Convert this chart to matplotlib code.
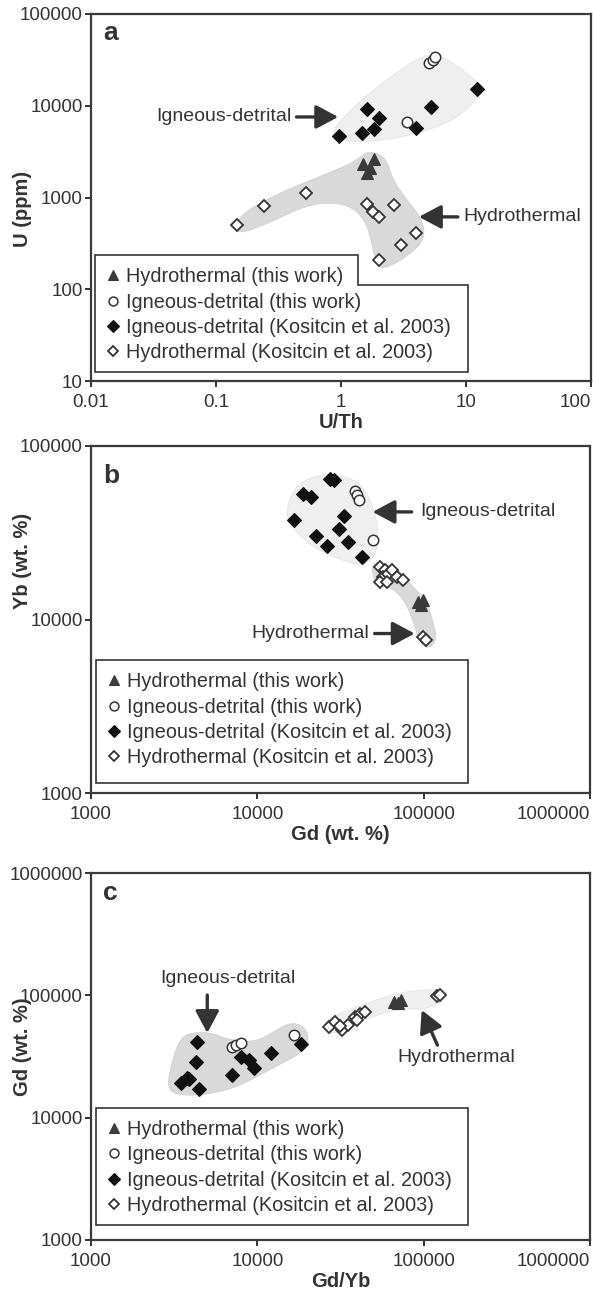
import numpy as np
import matplotlib.pyplot as plt
from matplotlib.lines import Line2D
from matplotlib.patches import Polygon
from matplotlib.ticker import FixedLocator, FuncFormatter, NullLocator

plt.rcParams['font.family'] = ['Liberation Sans', 'DejaVu Sans']

DARK = '#333333'
LIGHT_FILL = '#efefef'
GREY_FILL = '#d9d9d9'

# ---- panel a: U/Th vs U (ppm)
a_hyd_tw_x = [1.5, 1.85, 1.6, 1.7]
a_hyd_tw_y = [2300, 2600, 1850, 2100]
a_ign_tw_x = [5.1, 5.4, 5.7, 3.4]
a_ign_tw_y = [29000, 31500, 34000, 6700]
a_ign_k_x = [12.2, 5.2, 1.6, 2.0, 1.82, 1.46, 0.97, 4.0]
a_ign_k_y = [15200, 9700, 9200, 7400, 5600, 5050, 4700, 5700]
a_hyd_k_x = [0.148, 0.24, 0.52, 1.6, 1.8, 2.0, 2.65, 4.0, 3.0, 2.0]
a_hyd_k_y = [500, 810, 1120, 850, 700, 615, 830, 410, 305, 210]

# field outlines (a)
a_ign_field_x = [0.78, 1.33, 3.36, 8.45, 14.2, 12.5, 6.5, 4.5, 2.45, 1.17]
a_ign_field_y = [4570, 3930, 4570, 7000, 14900, 18200, 35700, 35700, 20600, 9000]
a_hyd_field_x = [0.14, 0.163, 0.267, 0.49, 0.81, 1.24, 1.6, 1.79, 1.93, 2.32, 3.36, 4.68,
                 4.51, 3.36, 2.59, 2.32, 1.93, 1.6, 1.24, 0.67, 0.366, 0.195, 0.148]
a_hyd_field_y = [444, 411, 529, 790, 895, 790, 529, 290, 175, 171, 225, 345,
                 570, 942, 1556, 2570, 3060, 3140, 2380, 1680, 1210, 790, 570]

# ---- panel b: Gd vs Yb
b_hyd_tw_x = [92000, 98600, 97000]
b_hyd_tw_y = [12600, 12900, 12100]
b_ign_tw_x = [38900, 40000, 41100, 49300]
b_ign_tw_y = [55000, 52200, 48900, 28700]
b_ign_k_x = [27500, 29100, 18700, 20900, 16700, 33000, 30800, 22400, 34900, 26400, 42300]
b_ign_k_y = [64500, 63700, 52900, 50800, 37500, 39500, 33200, 30300, 28000, 26500, 22900]
b_hyd_k_x = [54300, 58200, 56600, 60700, 64200, 68800, 74700, 54300, 59800, 98600, 104000]
b_hyd_k_y = [20100, 19300, 17600, 18300, 19300, 17600, 16900, 16400, 16400, 7930, 7620]

b_ign_field_x = [27100, 39500, 47300, 52800, 52800, 50700, 42900, 35800, 22700, 17200, 14900, 15600, 18700]
b_ign_field_y = [69900, 63700, 50800, 36000, 27600, 22900, 20600, 21200, 25200, 31500, 39000, 50800, 63700]
b_hyd_field_x = [49300, 56600, 71700, 85900, 104000, 113000, 120000, 112000, 98600, 90700, 82400, 68800, 54300, 49300]
b_hyd_field_y = [21200, 21400, 19300, 15400, 12900, 9930, 7930, 6940, 6940, 8360, 11300, 14800, 15800, 17600]

# ---- panel c: Gd/Yb vs Gd
c_hyd_tw_x = [66000, 73000, 70000]
c_hyd_tw_y = [88000, 91000, 86000]
c_ign_tw_x = [7070, 7470, 8010, 16500]
c_ign_tw_y = [37800, 39200, 40700, 47300]
c_ign_k_x = [4350, 4290, 12100, 18400, 8010, 8950, 9590, 7070, 3790, 3480, 3890, 4470]
c_ign_k_y = [41500, 28500, 33700, 40000, 31300, 29600, 25500, 22300, 21100, 19200, 20700, 17100]
c_hyd_k_x = [27100, 29500, 32500, 35300, 38400, 41700, 44100, 40000, 31200, 121000, 125000]
c_hyd_k_y = [55100, 60500, 52000, 57200, 66500, 70300, 73000, 62800, 56100, 98700, 100000]

c_ign_field_x = [3390, 3890, 5140, 6780, 9860, 13000, 15600, 18700, 20600, 18700, 14100, 9860,
                 7270, 4790, 3300, 2870, 3030]
c_ign_field_y = [43100, 49200, 50100, 43100, 41500, 52000, 59400, 57200, 45600, 34400, 27900, 21500,
                 17500, 15300, 15300, 17500, 26900]
c_hyd_field_x = [24600, 27100, 39500, 62400, 90700, 130000, 140000, 130000, 98600, 79000, 56600, 39500, 32500, 27100]
c_hyd_field_y = [55100, 65200, 80200, 100500, 110000, 112600, 104400, 88100, 75800, 78700, 71700, 59400, 50100, 49200]

labels = ['Hydrothermal (this work)', 'Igneous-detrital (this work)',
          'Igneous-detrital (Kositcin et al. 2003)', 'Hydrothermal (Kositcin et al. 2003)']

styles = [
    dict(marker='^', ms=9, mfc='#3a3a3a', mec='#3a3a3a', mew=0.8),
    dict(marker='o', ms=7.5, mfc='white', mec=DARK, mew=1.1),
    dict(marker='D', ms=7.5, mfc='#111111', mec='#111111', mew=0.8),
    dict(marker='D', ms=6.5, mfc='white', mec=DARK, mew=1.3),
]


def smooth_closed(xs, ys, n=4):
    pts = np.column_stack([np.log10(xs), np.log10(ys)])
    for _ in range(n):
        nxt = np.roll(pts, -1, axis=0)
        q = 0.75 * pts + 0.25 * nxt
        r = 0.25 * pts + 0.75 * nxt
        pts = np.empty((2 * len(q), 2))
        pts[0::2] = q
        pts[1::2] = r
    return 10 ** pts[:, 0], 10 ** pts[:, 1]


def fmt(v, _):
    return f'{v:g}' if v < 1 else str(int(round(v)))


def setup(ax, xlim, ylim, xlabel, ylabel, letter, letter_y, ylabel_y):
    ax.set_xscale('log')
    ax.set_yscale('log')
    ax.set_xlim(*xlim)
    ax.set_ylim(*ylim)
    xt = [10.0 ** k for k in range(int(np.log10(xlim[0])), int(np.log10(xlim[1])) + 1)]
    yt = [10.0 ** k for k in range(int(np.log10(ylim[0])), int(np.log10(ylim[1])) + 1)]
    ax.xaxis.set_major_locator(FixedLocator(xt))
    ax.yaxis.set_major_locator(FixedLocator(yt))
    ax.xaxis.set_minor_locator(NullLocator())
    ax.yaxis.set_minor_locator(NullLocator())
    ax.xaxis.set_major_formatter(FuncFormatter(fmt))
    ax.yaxis.set_major_formatter(FuncFormatter(fmt))
    ax.tick_params(direction='out', length=4, width=1.4, colors=DARK, labelsize=13.5, pad=2)
    ax.tick_params(axis='x', pad=5.5)
    for s in ax.spines.values():
        s.set_linewidth(1.6)
        s.set_color('#3a3a3a')
    ax.set_xlabel(xlabel, fontsize=14.5, fontweight='bold', color=DARK, labelpad=1)
    ax.set_ylabel(ylabel, fontsize=14.5, fontweight='bold', color=DARK)
    ax.yaxis.set_label_coords(-0.118, ylabel_y)
    ax.text(0.025, letter_y, letter, transform=ax.transAxes, fontsize=19, fontweight='bold',
            color=DARK, va='baseline')
    fig.canvas.draw()
    ax.get_xticklabels()[-1].set_horizontalalignment('right')


def field(ax, xs, ys, color):
    sx, sy = smooth_closed(xs, ys)
    ax.fill(sx, sy, facecolor=color, edgecolor='#e4e4e4' if color == LIGHT_FILL else '#d0d0d0',
            lw=0.6, zorder=1)


def points(ax, series):
    for (x, y), st in zip(series, styles):
        ax.plot(x, y, ls='none', zorder=3, **st)


ARROW = dict(arrowstyle='-|>,head_length=0.75,head_width=0.4', lw=2.4,
             color=DARK, shrinkA=0, shrinkB=0, mutation_scale=18)


def arrow(ax, text, tail, head, text_xy, ha):
    ax.annotate('', xy=head, xytext=tail, arrowprops=ARROW, zorder=4)
    ax.text(text_xy[0], text_xy[1], text, ha=ha, va='center', fontsize=14, color=DARK, zorder=4)


def legend(ax, frame_pts, anchor):
    handles = [Line2D([], [], ls='none', **st) for st in styles]
    ax.legend(handles, labels, loc='upper left', bbox_to_anchor=anchor, frameon=False,
              fontsize=14.3, handlelength=0.6, handletextpad=0.35, labelspacing=0.31,
              borderpad=0.62, borderaxespad=0, labelcolor=DARK, markerscale=0.85)
    ax.add_patch(Polygon(frame_pts, closed=True, transform=ax.transAxes, facecolor='white',
                         edgecolor=DARK, lw=1.2, zorder=2.5))


fig = plt.figure(figsize=(5.93, 12.93), dpi=100)

# panel a
ax = fig.add_axes([91 / 593, 1 - 381 / 1293, 500 / 593, 367 / 1293])
setup(ax, (0.01, 100), (10, 100000), 'U/Th', 'U (ppm)', 'a', 0.929, 0.47)
field(ax, a_ign_field_x, a_ign_field_y, LIGHT_FILL)
field(ax, a_hyd_field_x, a_hyd_field_y, GREY_FILL)
points(ax, [(a_hyd_tw_x, a_hyd_tw_y), (a_ign_tw_x, a_ign_tw_y),
            (a_ign_k_x, a_ign_k_y), (a_hyd_k_x, a_hyd_k_y)])
arrow(ax, 'Igneous-detrital', (0.44, 7550), (0.95, 7550), (0.40, 7550), 'right')
arrow(ax, 'Hydrothermal', (8.6, 615), (4.2, 615), (9.6, 615), 'left')
legend(ax, [(0.008, 0.0245), (0.754, 0.0245), (0.754, 0.262), (0.534, 0.262),
            (0.534, 0.343), (0.008, 0.343)], (0.008, 0.343))

# panel b
ax = fig.add_axes([91 / 593, 1 - 793 / 1293, 499 / 593, 347 / 1293])
setup(ax, (1000, 1000000), (1000, 100000), 'Gd (wt. %)', 'Yb (wt. %)', 'b', 0.893, 0.668)
field(ax, b_ign_field_x, b_ign_field_y, LIGHT_FILL)
field(ax, b_hyd_field_x, b_hyd_field_y, GREY_FILL)
points(ax, [(b_hyd_tw_x, b_hyd_tw_y), (b_ign_tw_x, b_ign_tw_y),
            (b_ign_k_x, b_ign_k_y), (b_hyd_k_x, b_hyd_k_y)])
arrow(ax, 'Igneous-detrital', (84700, 41700), (49300, 41700), (95000, 41700), 'left')
arrow(ax, 'Hydrothermal', (50700, 8300), (88300, 8300), (47000, 8300), 'right')
legend(ax, [(0.01, 0.029), (0.755, 0.029), (0.755, 0.383), (0.01, 0.383)], (0.01, 0.383))

# panel c
ax = fig.add_axes([91 / 593, 1 - 1240 / 1293, 499 / 593, 367 / 1293])
setup(ax, (1000, 1000000), (1000, 1000000), 'Gd/Yb', 'Gd (wt. %)', 'c', 0.926, 0.526)
field(ax, c_ign_field_x, c_ign_field_y, GREY_FILL)
field(ax, c_hyd_field_x, c_hyd_field_y, LIGHT_FILL)
points(ax, [(c_hyd_tw_x, c_hyd_tw_y), (c_ign_tw_x, c_ign_tw_y),
            (c_ign_k_x, c_ign_k_y), (c_hyd_k_x, c_hyd_k_y)])
ax.annotate('', xy=(5000, 49200), xytext=(5000, 100500), arrowprops=ARROW, zorder=4)
ax.text(6690, 138000, 'Igneous-detrital', ha='center', va='center', fontsize=14, color=DARK)
ax.annotate('', xy=(97300, 75800), xytext=(121000, 39200), arrowprops=ARROW, zorder=4)
ax.text(158000, 31300, 'Hydrothermal', ha='center', va='center', fontsize=14, color=DARK)
legend(ax, [(0.01, 0.041), (0.755, 0.041), (0.755, 0.36), (0.01, 0.36)], (0.01, 0.36))

fig.savefig('out.png', dpi=100, facecolor='white')
